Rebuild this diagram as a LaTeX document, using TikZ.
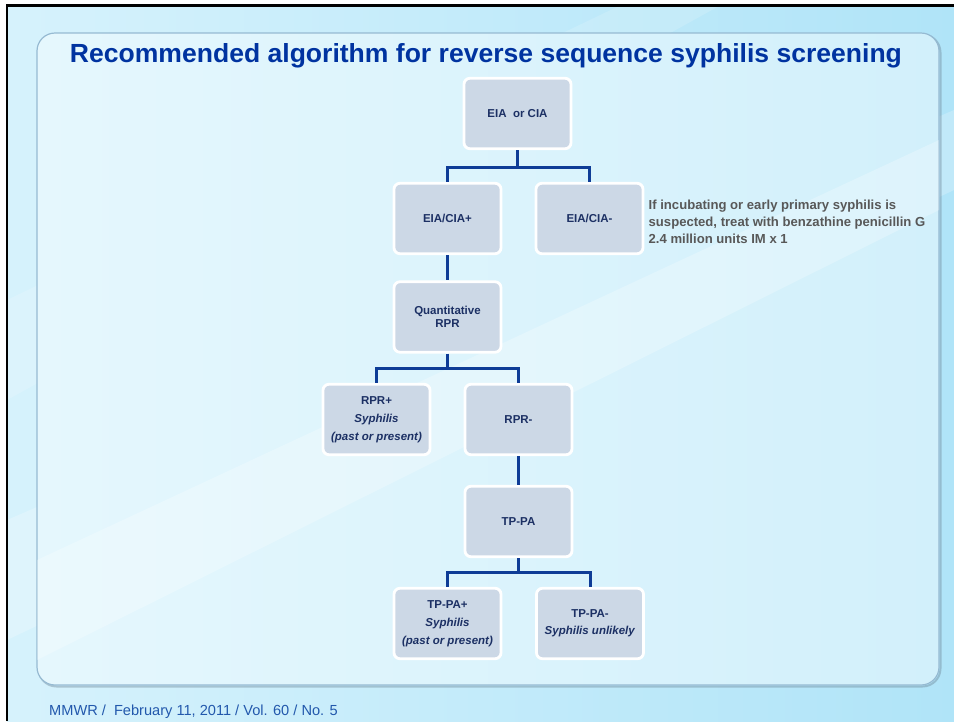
\documentclass[tikz,border=0pt]{standalone}
\usepackage{fontspec}
\setmainfont{Liberation Sans}

\definecolor{bgA}{RGB}{214,242,252}
\definecolor{bgB}{RGB}{176,228,248}
\definecolor{panelA}{RGB}{229,247,253}
\definecolor{panelB}{RGB}{210,240,251}
\definecolor{panelEdge}{RGB}{150,186,210}
\definecolor{boxFill}{RGB}{204,216,230}
\definecolor{boxText}{RGB}{28,48,100}
\definecolor{linkBlue}{RGB}{14,60,150}
\definecolor{titleBlue}{RGB}{0,51,160}
\definecolor{noteGray}{RGB}{88,88,88}
\definecolor{footBlue}{RGB}{34,88,172}

\tikzset{
  stepbox/.style={rectangle, rounded corners=6pt, fill=boxFill, draw=white,
    line width=2.8pt, minimum width=107pt, minimum height=70.5pt, inner sep=2pt,
    align=center, text=boxText, font=\bfseries\fontsize{11.5}{13}\selectfont},
  wide/.style={font=\bfseries\fontsize{11.5}{18}\selectfont},
  link/.style={draw=linkBlue, line width=3pt},
}

\begin{document}
\begin{tikzpicture}[x=1pt, y=-1pt]
\useasboundingbox (0,0) rectangle (954,721);

% slide background and frame
\fill[white] (0,0) rectangle (954,721);
\shade[left color=bgA, right color=bgB] (7,5.5) rectangle (954,721);
\fill[white, opacity=0.22] (7,520) -- (954,110) -- (954,190) -- (7,640) -- cycle;
\fill[white, opacity=0.15] (7,300) -- (620,5.5) -- (720,5.5) -- (7,400) -- cycle;
\draw[black, line width=2.5pt] (7,721) -- (7,5.5) -- (954,5.5);

% content panel
\draw[panelEdge!70!black, opacity=0.4, line width=2pt, rounded corners=18pt]
  (38.5,34.5) rectangle (940.5,686.5);
\draw[panelEdge, line width=1.2pt, rounded corners=18pt, left color=panelA, right color=panelB]
  (37,33) rectangle (939,685);
\begin{scope}
  \clip[rounded corners=18pt] (37,33) rectangle (939,685);
  \fill[white, opacity=0.25] (37,560) -- (939,140) -- (939,210) -- (37,660) -- cycle;
\end{scope}

% title
\node[text=titleBlue, anchor=base, inner sep=0] (title) at (486,62)
  {\resizebox{832pt}{19pt}{\bfseries Recommended algorithm for reverse sequence syphilis screening}};

% decision boxes
\node[stepbox] (eia)   at (517.5,113.5) {EIA~~or CIA};
\node[stepbox] (pos)   at (447.5,218.5) {EIA/CIA+};
\node[stepbox] (neg)   at (589.5,218.5) {EIA/CIA-};
\node[stepbox] (quant) at (447.5,317)   {Quantitative\\RPR};
\node[stepbox, wide] (rprp) at (376.5,419.5)
  {RPR+\\\textit{Syphilis}\\\textit{(past or present)}};
\node[stepbox] (rprn)  at (518.5,419.5) {RPR-};
\node[stepbox] (tppa)  at (518.5,521.5) {TP-PA};
\node[stepbox, wide] (tpp) at (447.5,623.5)
  {TP-PA+\\\textit{Syphilis}\\\textit{(past or present)}};
\node[stepbox, font=\bfseries\fontsize{11.5}{17}\selectfont] (tpn) at (590,623.5)
  {TP-PA-\\\textit{Syphilis unlikely}};

% treatment note
\node[anchor=west, align=left, inner sep=0, text=noteGray,
      font=\bfseries\fontsize{13.1}{17}\selectfont] (note) at (648.5,222)
  {If incubating or early primary syphilis is\\
   suspected, treat with benzathine penicillin G\\
   2.4 million units IM x 1};

% connectors
\coordinate (j1) at (517.5,167);
\coordinate (j2) at (447.5,368);
\coordinate (j3) at (518.5,572);
\draw[link] (eia.south) -- (j1);
\draw[link] (pos.north) |- (j1) -| (neg.north);
\draw[link] (pos.south) -- (quant.north);
\draw[link] (quant.south) -- (j2);
\draw[link] (rprp.north) |- (j2) -| (rprn.north);
\draw[link] (rprn.south) -- (tppa.north);
\draw[link] (tppa.south) -- (j3);
\draw[link] (tpp.north) |- (j3) -| (tpn.north);

% citation
\node[anchor=base west, inner sep=0, text=footBlue, font=\fontsize{14.6}{16}\selectfont]
  (foot) at (49,715) {MMWR /~~February 11, 2011 / Vol. 60 / No. 5};
\end{tikzpicture}
\end{document}
